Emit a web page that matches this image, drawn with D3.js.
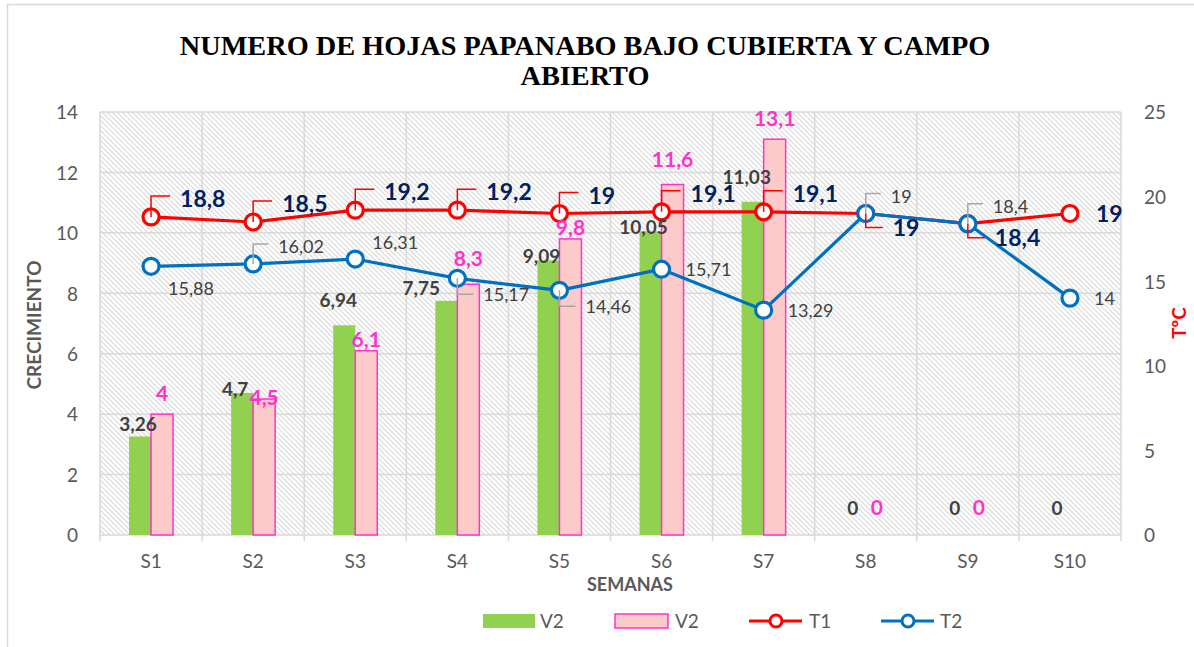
<!DOCTYPE html>
<html>
<head>
<meta charset="utf-8">
<script src="https://cdnjs.cloudflare.com/ajax/libs/d3/7.8.5/d3.min.js"></script>
<style>
	body { margin: 0; background: #fff; }
	svg text { font-family: Lato, "Open Sans", sans-serif; }
</style>
</head>
<body>
<div id="chart"></div>
<script>
	// data
	var weeks = ["S1", "S2", "S3", "S4", "S5", "S6", "S7", "S8", "S9", "S10"];
	var v2Green = [3.26, 4.7, 6.94, 7.75, 9.09, 10.05, 11.03, 0, 0, 0];
	var v2Pink = [4, 4.5, 6.1, 8.3, 9.8, 11.6, 13.1, 0, 0, null];
	var t1 = [18.8, 18.5, 19.2, 19.2, 19, 19.1, 19.1, 19, 18.4, 19];
	var t2 = [15.88, 16.02, 16.31, 15.17, 14.46, 15.71, 13.29, 19, 18.4, 14];
	var leftTicks = [0, 2, 4, 6, 8, 10, 12, 14];
	var rightTicks = [0, 5, 10, 15, 20, 25];

	// label placement (how excel had them dragged around)
	var greenPlace = ["top", "in", "high", "left", "in", "in", "high", "top", "top", "top"];
	var pinkPlace = ["top", "in", "low", "high", "low", "high", "top", "top", "top"];
	var t1Place = ["ur", "ur", "ur", "ur", "ur", "ur", "ur", "dr", "dr", "r"];
	var t2Place = ["br", "ur", "ar", "dr", "dr", "r", "r", "ur", "ur", "r"];

	var W = 1194, H = 647;
	var plot = { left: 100, right: 1121, top: 112, bottom: 535 };

	var svg = d3.select("#chart").append("svg")
		.attr("width", W)
		.attr("height", H);

	// hatch pattern for the plot area
	var defs = svg.append("defs");
	var pat = defs.append("pattern")
		.attr("id", "hatch")
		.attr("patternUnits", "userSpaceOnUse")
		.attr("width", 5)
		.attr("height", 5);
	pat.append("rect").attr("width", 5).attr("height", 5).attr("fill", "#fff");
	pat.append("path")
		.attr("d", "M-1,-1 L6,6 M-1,4 L1,6 M4,-1 L6,1")
		.attr("stroke", "#dadada")
		.attr("stroke-width", 1.2);

	// chart border
	svg.append("rect")
		.attr("x", 7.5).attr("y", 4.5)
		.attr("width", W + 10).attr("height", H + 10)
		.attr("fill", "none")
		.attr("stroke", "#d9d9d9")
		.attr("stroke-width", 1.5);

	var x = d3.scaleBand().domain(weeks).range([plot.left, plot.right]);
	var yL = d3.scaleLinear().domain([0, 14]).range([plot.bottom, plot.top]);
	var yR = d3.scaleLinear().domain([0, 25]).range([plot.bottom, plot.top]);
	var barW = 22;
	var sub = d3.scaleBand().domain(["g", "p"])
		.range([x.bandwidth() / 2 - barW, x.bandwidth() / 2 + barW]);

	function cx(d, i) { return x(weeks[i]) + x.bandwidth() / 2; }

	svg.append("rect")
		.attr("x", plot.left).attr("y", plot.top)
		.attr("width", plot.right - plot.left)
		.attr("height", plot.bottom - plot.top)
		.attr("fill", "url(#hatch)");

	// gridlines
	var grid = svg.append("g").attr("stroke", "#d9d9d9").attr("stroke-width", 1.5);
	grid.selectAll("line.h").data(leftTicks).enter().append("line")
		.attr("x1", plot.left).attr("x2", plot.right)
		.attr("y1", function(d) { return yL(d); })
		.attr("y2", function(d) { return yL(d); });
	var bounds = weeks.map(function(w) { return x(w); }).concat([plot.right]);
	grid.selectAll("line.v").data(bounds).enter().append("line")
		.attr("x1", function(d) { return d; }).attr("x2", function(d) { return d; })
		.attr("y1", plot.top).attr("y2", plot.bottom + 6);

	// axes
	var axL = d3.axisLeft(yL).tickValues(leftTicks).tickSize(0).tickPadding(22);
	var gL = svg.append("g").attr("transform", "translate(" + plot.left + ",0)").call(axL);
	var axR = d3.axisRight(yR).tickValues(rightTicks).tickSize(0).tickPadding(23);
	var gR = svg.append("g").attr("transform", "translate(" + plot.right + ",0)").call(axR);
	var axB = d3.axisBottom(x).tickSize(0).tickPadding(20);
	var gB = svg.append("g").attr("transform", "translate(0," + plot.bottom + ")").call(axB);
	[gL, gR, gB].forEach(function(g) {
		g.select(".domain").remove();
		g.selectAll("text")
			.style("font-size", "19px")
			.style("font-family", "Lato, sans-serif")
			.attr("fill", "#595959");
	});
	gL.selectAll("text").attr("dy", "0.36em");
	gR.selectAll("text").attr("dy", "0.36em");

	// bars
	var greenData = v2Green.map(function(v, i) { return { v: v, i: i }; });
	var pinkData = v2Pink.map(function(v, i) { return { v: v, i: i }; })
		.filter(function(d) { return d.v !== null; });

	var bars = svg.append("g");
	bars.selectAll("rect.g").data(greenData).enter().append("rect")
		.attr("x", function(d) { return x(weeks[d.i]) + sub("g"); })
		.attr("y", function(d) { return yL(d.v); })
		.attr("width", barW)
		.attr("height", function(d) { return plot.bottom - yL(d.v); })
		.attr("fill", "#92d050");
	bars.selectAll("rect.p").data(pinkData).enter().append("rect")
		.attr("x", function(d) { return x(weeks[d.i]) + sub("p"); })
		.attr("y", function(d) { return yL(d.v); })
		.attr("width", barW)
		.attr("height", function(d) { return plot.bottom - yL(d.v); })
		.attr("fill", "#fdcaca")
		.attr("stroke", "#ff33cc")
		.attr("stroke-width", 1.5);

	function fmt(v) { return String(v).replace(".", ","); }

	// lines
	function drawLine(vals, color) {
		var line = d3.line()
			.x(function(d, i) { return cx(d, i); })
			.y(function(d) { return yR(d); });
		svg.append("path")
			.datum(vals)
			.attr("d", line)
			.attr("fill", "none")
			.attr("stroke", color)
			.attr("stroke-width", 3.2)
			.attr("stroke-linejoin", "round");
		svg.append("g").selectAll("circle").data(vals).enter().append("circle")
			.attr("cx", cx)
			.attr("cy", function(d) { return yR(d); })
			.attr("r", 8)
			.attr("fill", "#fff")
			.attr("stroke", color)
			.attr("stroke-width", 3.2);
	}
	drawLine(t1, "#ff0000");
	drawLine(t2, "#0070c0");

	// bar labels (on top of the lines, like excel)
	var greenOff = { top: [-2, -6], "in": [-7, 3], high: [-6, -18], left: [-25, -6] };
	var pinkOff = { top: -13, "in": 6, low: -4, high: -18 };

	svg.append("g").selectAll("text").data(greenData).enter().append("text")
		.attr("x", function(d) { return x(weeks[d.i]) + sub("g") + barW / 2 + greenOff[greenPlace[d.i]][0]; })
		.attr("y", function(d) { return Math.min(yL(d.v) + greenOff[greenPlace[d.i]][1], plot.bottom - 20); })
		.attr("text-anchor", "middle")
		.style("font-size", "19px")
		.style("font-weight", "bold")
		.attr("fill", "#404040")
		.text(function(d) { return fmt(d.v); });
	svg.append("g").selectAll("text").data(pinkData).enter().append("text")
		.attr("x", function(d) { return x(weeks[d.i]) + sub("p") + barW / 2; })
		.attr("y", function(d) { return Math.min(yL(d.v) + pinkOff[pinkPlace[d.i]], plot.bottom - 20); })
		.attr("text-anchor", "middle")
		.style("font-size", "21px")
		.style("font-weight", "bold")
		.attr("fill", "#ff33cc")
		.text(function(d) { return fmt(d.v); });

	var t1Off = { ur: [29, -18], dr: [27, 14], r: [26, 0] };
	var t2Off = { ur: [25, -17], ar: [17, -17], dr: [26, 16], br: [17, 22], r: [24, 0] };

	function lineLabels(vals, place, off, leaderColor, size, weight, color) {
		var g = svg.append("g");
		vals.forEach(function(v, i) {
			var px = cx(v, i), py = yR(v);
			var o = off[place[i]];
			var lx = px + o[0], ly = py + o[1];
			if (place[i] == "ur" || place[i] == "dr") {
				var ty = ly + (o[1] < 0 ? -3 : 0);
				g.append("path")
					.attr("d", "M" + px + "," + py + " V" + ty + " H" + (lx - 10))
					.attr("fill", "none")
					.attr("stroke", leaderColor)
					.attr("stroke-width", 1.5);
			}
			g.append("text")
				.attr("x", lx)
				.attr("y", ly)
				.attr("dy", "0.36em")
				.style("font-size", size)
				.style("font-weight", weight)
				.attr("fill", color)
				.text(fmt(v));
		});
	}
	lineLabels(t2, t2Place, t2Off, "#a6a6a6", "18px", "normal", "#404040");
	lineLabels(t1, t1Place, t1Off, "#ff0000", "23px", "bold", "#002060");

	// titles
	var title = svg.append("text")
		.attr("x", 585)
		.attr("text-anchor", "middle")
		.style("font-family", "'Liberation Serif', 'Times New Roman', serif")
		.style("font-size", "28.3px")
		.style("font-weight", "bold")
		.attr("fill", "#000");
	title.append("tspan").attr("x", 585).attr("y", 55).text("NUMERO DE HOJAS PAPANABO BAJO CUBIERTA Y CAMPO");
	title.append("tspan").attr("x", 585).attr("y", 85).text("ABIERTO");

	svg.append("text")
		.attr("transform", "translate(41,325) rotate(-90)")
		.attr("text-anchor", "middle")
		.style("font-size", "19px")
		.style("font-weight", "bold")
		.attr("fill", "#595959")
		.text("CRECIMIENTO");

	svg.append("text")
		.attr("transform", "translate(1186,323) rotate(-90)")
		.attr("text-anchor", "middle")
		.style("font-size", "19px")
		.style("font-weight", "bold")
		.attr("fill", "#ff0000")
		.text("TºC");

	svg.append("text")
		.attr("x", 630).attr("y", 591)
		.attr("text-anchor", "middle")
		.style("font-size", "18px")
		.style("font-weight", "bold")
		.attr("fill", "#595959")
		.text("SEMANAS");

	// legend
	var leg = svg.append("g").attr("transform", "translate(0,621)");
	leg.append("rect").attr("x", 483).attr("y", -7).attr("width", 52).attr("height", 14).attr("fill", "#92d050");
	leg.append("rect").attr("x", 615).attr("y", -7).attr("width", 53).attr("height", 14)
		.attr("fill", "#fdcaca").attr("stroke", "#ff33cc").attr("stroke-width", 1.5);
	[[749, "#ff0000"], [881, "#0070c0"]].forEach(function(s) {
		leg.append("line").attr("x1", s[0]).attr("x2", s[0] + 53).attr("y1", 0).attr("y2", 0)
			.attr("stroke", s[1]).attr("stroke-width", 3.2);
		leg.append("circle").attr("cx", s[0] + 27).attr("cy", 0).attr("r", 6)
			.attr("fill", "#fff").attr("stroke", s[1]).attr("stroke-width", 3);
	});
	var legText = [[540, "V2"], [675, "V2"], [809, "T1"], [940, "T2"]];
	leg.selectAll("text").data(legText).enter().append("text")
		.attr("x", function(d) { return d[0]; })
		.attr("y", 0)
		.attr("dy", "0.36em")
		.style("font-size", "19px")
		.attr("fill", "#595959")
		.text(function(d) { return d[1]; });
</script>
</body>
</html>
